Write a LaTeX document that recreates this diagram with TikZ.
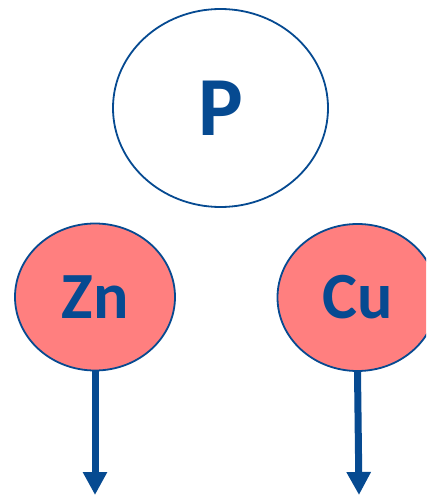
\documentclass[tikz,border=0pt]{standalone}
\usepackage{fontspec}
\setmainfont{Carlito}
\usetikzlibrary{shapes.geometric,arrows.meta}
\definecolor{dblue}{HTML}{064A91}
\definecolor{salmon}{HTML}{FF7F7F}
\begin{document}
\begin{tikzpicture}[x=1pt,y=-1pt,
  elem/.style={ellipse,draw=dblue,line width=1.8pt,inner sep=0pt,text=dblue,font=\bfseries\fontsize{66}{66}\selectfont},
  flow/.style={draw=dblue,line width=7pt,-{Triangle[width=23pt,length=23pt]}}]
\useasboundingbox (0,0) rectangle (426,495);
\begin{scope}
\clip (0,0) rectangle (426,495);
\node[elem,fill=white,minimum width=215pt,minimum height=198pt,font=\bfseries\fontsize{84}{84}\selectfont] (p) at (220.5,108) {\raisebox{-3pt}{P}};
\node[elem,fill=salmon,minimum width=160pt,minimum height=147pt] (zn) at (95,297) {\raisebox{-2pt}{Zn}};
\node[elem,fill=salmon,minimum width=160pt,minimum height=147pt] (cu) at (357.5,297.5) {\raisebox{-2pt}{Cu}};
\coordinate (znend) at (95,495);
\coordinate (cuend) at (359,495);
\draw[flow] (zn.south) -- (znend);
\draw[flow] (cu.south) -- (cuend);
\end{scope}
\end{tikzpicture}
\end{document}
